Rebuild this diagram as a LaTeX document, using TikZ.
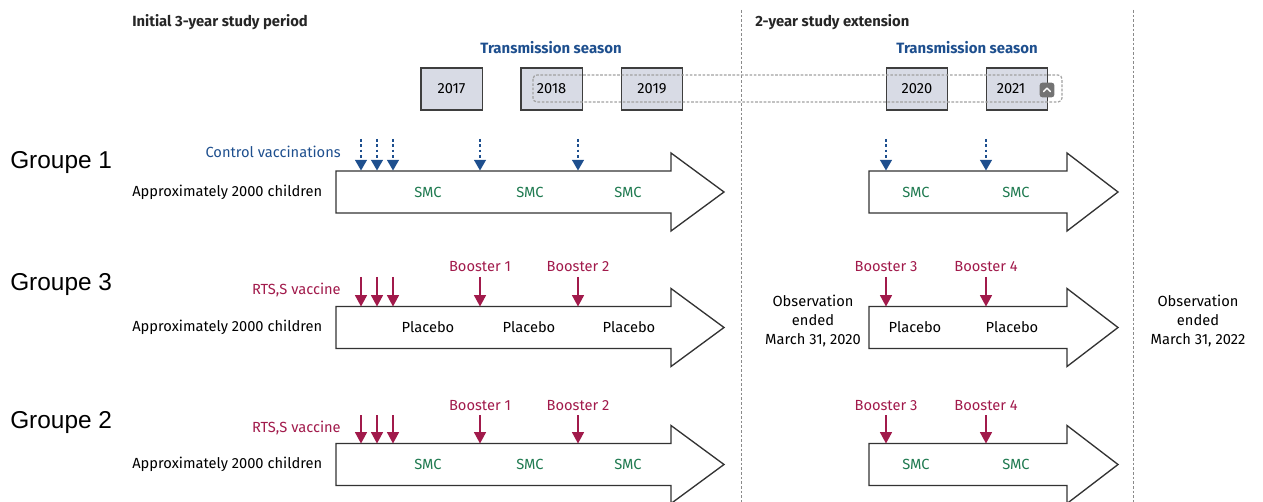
\documentclass[tikz,border=0pt]{standalone}
\usepackage{fontspec}
\setmainfont{Fira Sans}
\newfontfamily\grpfont{Liberation Sans}
\usetikzlibrary{arrows.meta}
\definecolor{vblue}{HTML}{1E4F8E}
\definecolor{vred}{HTML}{A11A4B}
\definecolor{smcgreen}{HTML}{1F7A50}
\definecolor{boxfill}{HTML}{D8DBE5}
\definecolor{boxline}{HTML}{3E3E3E}
\definecolor{guide}{HTML}{8A8A8A}

\tikzset{
  heading/.style={font=\bfseries\fontsize{11.1}{13}\selectfont, text=black!85, inner sep=0pt, anchor=west},
  season/.style={font=\bfseries\fontsize{11.2}{13}\selectfont, text=vblue, inner sep=0pt},
  yearbox/.style={draw=boxline, line width=1pt, fill=boxfill, minimum width=46pt, minimum height=31.5pt,
    inner sep=0pt, font=\fontsize{11}{13}\selectfont},
  grouplabel/.style={font=\grpfont\fontsize{18.3}{20}\selectfont, inner sep=0pt, anchor=west},
  body/.style={font=\fontsize{11}{13}\selectfont, inner sep=0pt},
  smc/.style={body, text=smcgreen},
  bluetext/.style={body, text=vblue},
  redtext/.style={body, text=vred},
  bigarrow/.style={draw=black!80, line width=1pt, fill=white, line join=miter},
  controlmark/.style={vblue, line width=0.9pt, dash pattern=on 2pt off 2pt,
    -{Triangle[width=9pt,length=8pt]}},
  vaccmark/.style={vred, line width=0.9pt, -{Triangle[width=9pt,length=8.5pt]}},
  divider/.style={guide, line width=0.6pt, dash pattern=on 2pt off 1.5pt},
}

% study arrow: left end, end of shaft, tip, centre line
\newcommand\studyarrow[4]{%
  \draw[bigarrow] (#1,{#4-21}) -- (#2,{#4-21}) -- (#2,{#4-39}) -- (#3,#4)
    -- (#2,{#4+39}) -- (#2,{#4+21}) -- (#1,{#4+21}) -- cycle;}

\begin{document}
\begin{tikzpicture}[x=0.75pt,y=-0.75pt]
\useasboundingbox (0,0) rectangle (1263,502);

% period dividers
\coordinate (d1top) at (741,10);  \coordinate (d1bot) at (741,502);
\coordinate (d2top) at (1133,10); \coordinate (d2bot) at (1133,502);
\draw[divider] (d1top) -- (d1bot);
\draw[divider] (d2top) -- (d2bot);

% headings
\node[heading] (h1) at (132,22) {Initial 3-year study period};
\node[heading] (h2) at (755,22) {2-year study extension};
\node[season] (s1) at (551,48) {Transmission season};
\node[season] (s2) at (967,48) {Transmission season};

% transmission seasons
\node[yearbox] (y2017) at (451.5,89) {2017};
\node[yearbox] (y2018) at (551.5,89) {2018};
\node[yearbox] (y2019) at (652,89) {2019};
\node[yearbox] (y2020) at (917,89) {2020};
\node[yearbox] (y2021) at (1017,89) {2021\hspace*{9pt}};
\draw[guide!80, line width=0.9pt, dash pattern=on 2pt off 1.2pt, rounded corners=3pt]
  (533,75) rectangle (1062,102);
\node[fill=black!55, rounded corners=2pt, minimum width=11pt, minimum height=11pt, inner sep=0pt]
  (btn) at (1047,90) {};
\draw[white, line width=1.1pt, line cap=round, line join=round]
  ([xshift=-2.6pt,yshift=-1.2pt]btn.center) -- ([yshift=1.4pt]btn.center) -- ([xshift=2.6pt,yshift=-1.2pt]btn.center);

% group labels
\node[grouplabel] (g1) at (10,163) {Groupe 1};
\node[grouplabel] (g3) at (10,285) {Groupe 3};
\node[grouplabel] (g2) at (10,423) {Groupe 2};

% ---------- Groupe 1 ----------
\studyarrow{336}{671}{724}{192}
\studyarrow{869}{1067}{1118}{192}
\node[body, anchor=west] (c1) at (132,192) {Approximately 2000 children};
\node[bluetext, anchor=east] (cv) at (341,152) {Control vaccinations};
\foreach \n/\x in {a/361,b/377,c/393,d/480,e/578,f/886,g/986}{
  \coordinate (cm\n top) at (\x,139);
  \coordinate (cm\n tip) at (\x,170.5);
  \draw[controlmark] (cm\n top) -- (cm\n tip);
}
\foreach \n/\x in {a/428,b/530,c/628,d/916,e/1016}
  \node[smc] (smcA\n) at (\x,192) {SMC};

% ---------- Groupe 3 ----------
\studyarrow{336}{671}{724}{327.5}
\studyarrow{869}{1067}{1118}{327.5}
\node[body, anchor=west] (c3) at (132,327.5) {Approximately 2000 children};
\node[redtext, anchor=east] (rts3) at (341,290) {RTS,S vaccine};
\foreach \n/\x in {a/361,b/377,c/393,d/480,e/578,f/886,g/986}{
  \coordinate (rb\n top) at (\x,277);
  \coordinate (rb\n tip) at (\x,306.5);
  \draw[vaccmark] (rb\n top) -- (rb\n tip);
}
\node[redtext] (b31) at (480,267) {Booster 1};
\node[redtext] (b32) at (578,267) {Booster 2};
\node[redtext] (b33) at (886,267) {Booster 3};
\node[redtext] (b34) at (986,267) {Booster 4};
\foreach \n/\x in {a/428,b/529,c/629,d/915,e/1012}
  \node[body] (pl\n) at (\x,327.5) {Placebo};

% end of observation
\node[body, align=center, font=\fontsize{11}{14.6}\selectfont] (obs1) at (813,321)
  {Observation\\ended\\March 31, 2020};
\node[body, align=center, font=\fontsize{11}{14.6}\selectfont] (obs2) at (1198,321)
  {Observation\\ended\\March 31, 2022};

% ---------- Groupe 2 ----------
\studyarrow{336}{671}{724}{464.5}
\studyarrow{869}{1067}{1118}{464.5}
\node[body, anchor=west] (c2) at (132,464.5) {Approximately 2000 children};
\node[redtext, anchor=east] (rts2) at (341,428) {RTS,S vaccine};
\foreach \n/\x in {a/361,b/377,c/393,d/480,e/578,f/886,g/986}{
  \coordinate (rc\n top) at (\x,415);
  \coordinate (rc\n tip) at (\x,443.5);
  \draw[vaccmark] (rc\n top) -- (rc\n tip);
}
\node[redtext] (b21) at (480,406) {Booster 1};
\node[redtext] (b22) at (578,406) {Booster 2};
\node[redtext] (b23) at (886,406) {Booster 3};
\node[redtext] (b24) at (986,406) {Booster 4};
\foreach \n/\x in {a/428,b/530,c/628,d/916,e/1016}
  \node[smc] (smcB\n) at (\x,464.5) {SMC};

\end{tikzpicture}
\end{document}
